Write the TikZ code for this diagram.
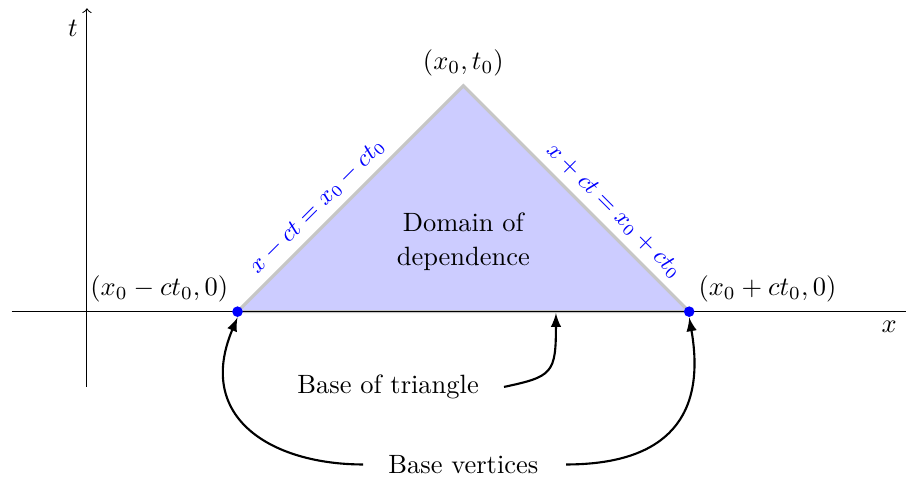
\documentclass[tikz,border=0pt]{standalone}
\usetikzlibrary{arrows}
\begin{document}
\begin{tikzpicture}[
  >=latex,
  dotnode/.style={circle, fill=blue, inner sep=0pt, minimum size=4pt},
  sidelabel/.style={sloped, above, text=blue, font=\small},
  pointer/.style={->, thick}
]
\useasboundingbox (-1.155,-2.19) rectangle (10.88,4.14);
\coordinate (A) at (2,0);
\coordinate (B) at (8,0);
\coordinate (C) at (5,3);
\fill[blue!20] (A) -- (B) -- (C) -- cycle;
\draw[gray!45, very thick] (A) -- (B) -- (C) -- cycle;
% axes
\coordinate (xs) at (-1,0);
\coordinate (xe) at (10.88,0);
\coordinate (ts) at (0,-1);
\coordinate (te) at (0,4.03);
\draw (xs) -- (xe) node[below left] (xl) {$x$};
\draw[-to] (ts) -- (te);
\node[below left] (tl) at (0,4) {$t$};
% labels
\node[above] (Cl) at (C) {$(x_0,t_0)$};
\node[above left] (Al) at (A) {$(x_0-ct_0,0)$};
\node[above right] (Bl) at (B) {$(x_0+ct_0,0)$};
\path (A) -- (C) node[pos=0.41, sidelabel] (l1) {$x-ct=x_0-ct_0$};
\path (C) -- (B) node[pos=0.61, sidelabel] (l2) {$x+ct=x_0+ct_0$};
\node[align=center] (dom) at (5,0.93) {Domain of\\[0.6pt]dependence};
% dots
\node[dotnode] (dA) at (A) {};
\node[dotnode] (dB) at (B) {};
% annotations
\node (bt) at (4.0,-1.0) {Base of triangle};
\node (bv) at (5.0,-2.03) {Base vertices};
\coordinate (bp) at (6.23,-0.02);
\draw[pointer] ([xshift=6pt]bt.east) .. controls +(12:0.66) and +(-90:0.8) .. (bp);
\draw[pointer] ([xshift=-6pt]bv.west) .. controls +(180:1.2) and +(-113:1.46) .. (dA.south);
\draw[pointer] ([xshift=7pt]bv.east) .. controls +(0:1.2) and +(-80:1.46) .. (dB.south);
\end{tikzpicture}
\end{document}
